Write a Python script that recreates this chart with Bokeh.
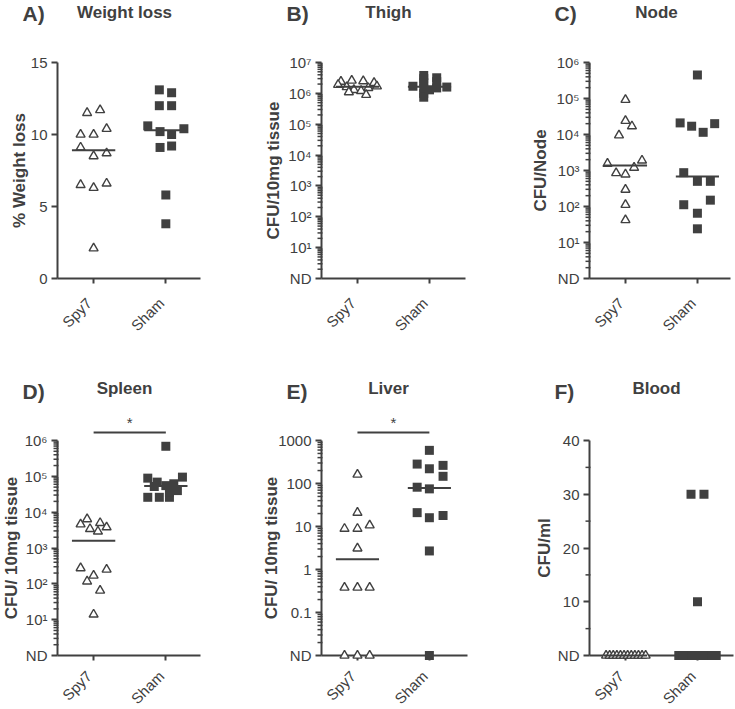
import math
import numpy as np
from bokeh.plotting import figure
from bokeh.models import Range1d, FixedTicker
from bokeh.core.properties import value
from bokeh.layouts import column, row
from bokeh.embed import file_html
from bokeh.resources import INLINE

groups = ["Spy7", "Sham"]

# ---------------- data ----------------
# A) Weight loss (%)
wl_spy7 = [11.5, 11.7, 10.4, 10.0, 10.0, 9.1, 8.5, 8.7, 6.5, 6.3, 6.6, 2.1]
wl_spy7_dx = [-0.09, 0.09, 0.18, -0.18, 0.0, -0.18, 0.0, 0.18, -0.18, 0.0, 0.18, 0.0]
wl_sham = [13.1, 12.9, 12.0, 12.0, 10.6, 10.2, 10.0, 10.4, 9.1, 9.2, 5.8, 3.8]
wl_sham_dx = [-0.09, 0.08, -0.09, 0.08, -0.25, -0.08, 0.08, 0.25, -0.08, 0.08, 0.0, 0.0]
wl_ticks = [0, 5, 10, 15]
wl_tick_labels = ["0", "5", "10", "15"]
wl_minor = []

# B) Thigh (CFU/10mg tissue), 0 = ND
thigh_spy7 = [2.4e6, 2.6e6, 2.5e6, 2.2e6, 1.9e6, 1.7e6, 1.6e6, 1.5e6, 1.3e6, 1.2e6, 1.1e6, 0.9e6]
thigh_spy7_dx = [-0.23, -0.08, 0.08, 0.23, -0.27, 0.27, -0.15, 0.15, -0.05, 0.05, -0.12, 0.12]
thigh_sham = [3.8e6, 3.0e6, 2.2e6, 1.5e6, 1.0e6, 0.75e6, 3.2e6, 2.4e6, 1.5e6, 1.7e6, 1.6e6, 1.3e6]
thigh_sham_dx = [-0.08, -0.08, -0.08, -0.08, -0.08, -0.08, 0.1, 0.1, 0.1, -0.23, 0.24, 0.0]
thigh_ticks = [1, 10, 100, 1000, 10000, 100000, 1000000, 10000000]
thigh_tick_labels = ["ND", "10¹", "10²", "10³", "10⁴", "10⁵", "10⁶", "10⁷"]

# C) Node (CFU/Node)
node_spy7 = [9.2e4, 2.4e4, 1.7e4, 9.5e3, 1.55e3, 1.9e3, 1.2e3, 850, 780, 295, 112, 42]
node_spy7_dx = [0.0, 0.0, 0.09, -0.09, -0.25, 0.23, 0.12, -0.13, 0.0, 0.0, 0.0, 0.0]
node_sham = [4.5e5, 2.1e4, 1.7e4, 1.15e4, 2.0e4, 870, 500, 500, 112, 150, 65, 24]
node_sham_dx = [0.0, -0.24, -0.08, 0.08, 0.24, -0.19, 0.0, 0.18, -0.19, 0.18, 0.0, 0.0]
node_ticks = [1, 10, 100, 1000, 10000, 100000, 1000000]
node_tick_labels = ["ND", "10¹", "10²", "10³", "10⁴", "10⁵", "10⁶"]

# D) Spleen (CFU/ 10mg tissue)
spleen_spy7 = [6.4e3, 4.6e3, 5.0e3, 3.8e3, 3.4e3, 2.9e3, 275, 250, 170, 117, 65, 14]
spleen_spy7_dx = [-0.09, -0.18, 0.09, 0.18, -0.05, 0.06, -0.18, 0.18, 0.0, -0.09, 0.09, 0.0]
spleen_sham = [6.9e5, 8.9e4, 9.5e4, 6.9e4, 6.2e4, 5.5e4, 4.0e4, 2.6e4, 2.6e4, 2.6e4, 5.2e4, 3.6e4]
spleen_sham_dx = [0.0, -0.25, 0.23, -0.12, 0.11, 0.0, 0.16, -0.25, -0.09, 0.05, -0.16, 0.05]
spleen_ticks = [1, 10, 100, 1000, 10000, 100000, 1000000]
spleen_tick_labels = ["ND", "10¹", "10²", "10³", "10⁴", "10⁵", "10⁶"]

# E) Liver (CFU/ 10mg tissue), 0 = ND
liver_spy7 = [162, 21, 8.9, 8.9, 10.7, 3.1, 0.38, 0.38, 0.38, 0, 0, 0]
liver_spy7_dx = [0.0, 0.0, -0.18, 0.0, 0.17, 0.0, -0.18, 0.0, 0.17, -0.18, 0.0, 0.17]
liver_sham = [590, 283, 220, 264, 147, 82, 75, 21, 16, 18, 2.7, 0]
liver_sham_dx = [0.0, -0.17, 0.0, 0.19, 0.19, -0.17, 0.0, -0.17, 0.0, 0.19, 0.0, 0.0]
liver_ticks = [0.01, 0.1, 1, 10, 100, 1000]
liver_tick_labels = ["ND", "0.1", "1", "10", "100", "1000"]

# F) Blood (CFU/ml), 0 = ND
blood_spy7 = [0, 0, 0, 0, 0, 0, 0, 0, 0, 0, 0, 0]
blood_spy7_dx = [-0.27, -0.22, -0.17, -0.12, -0.07, -0.02, 0.03, 0.08, 0.13, 0.18, 0.23, 0.28]
blood_sham = [30, 30, 10, 0, 0, 0, 0, 0, 0, 0, 0, 0]
blood_sham_dx = [-0.09, 0.09, 0.0, -0.26, -0.2, -0.13, -0.07, 0.0, 0.07, 0.13, 0.2, 0.26]
blood_ticks = [0, 10, 20, 30, 40]
blood_tick_labels = ["ND", "10", "20", "30", "40"]
blood_minor = [5, 15, 25, 35]


def log_minor(k0, k1):
    return [m * 10.0 ** k for k in range(k0, k1) for m in range(2, 10)]


# ---------------- style ----------------
INK = "#404040"
FONT = "Liberation Sans"


def panel(letter, title, ylabel, W, H, L, T, FW, FH, x_end,
          y_start, y_end, log, ticks, tick_labels, minor,
          spy, spy_dx, sham, sham_dx, ylab_x, title_dy, letter_dy, xlab_dy, sig=False):
    x_start = 0.5
    p = figure(width=W, height=H, x_range=Range1d(x_start, x_end),
               y_range=Range1d(y_start, y_end),
               y_axis_type="log" if log else "linear",
               output_backend="svg", toolbar_location=None,
               min_border_left=L, min_border_top=T,
               min_border_right=W - L - FW, min_border_bottom=H - T - FH)
    p.outline_line_color = None
    p.xgrid.visible = False
    p.ygrid.visible = False
    p.background_fill_color = "white"
    p.border_fill_color = "white"

    def sx(px):  # screen offset from frame left -> data x
        return x_start + px / FW * (x_end - x_start)

    def dxp(px):  # pixel distance -> data x distance
        return px / FW * (x_end - x_start)

    def sy(px):  # screen offset up from frame bottom -> data y
        if log:
            a, b = math.log10(y_start), math.log10(y_end)
            return 10 ** (a + px / FH * (b - a))
        return y_start + px / FH * (y_end - y_start)

    # x axis (category labels drawn as rotated text below)
    xa = p.xaxis[0]
    xa.ticker = FixedTicker(ticks=[1, 2])
    xa.major_label_overrides = {1: "", 2: ""}
    xa.major_label_text_font_size = "1px"
    xa.major_label_standoff = 0
    xa.axis_line_color = INK
    xa.axis_line_width = 2
    xa.major_tick_line_color = INK
    xa.major_tick_line_width = 2
    xa.major_tick_in = 0
    xa.major_tick_out = 5
    xa.minor_tick_line_color = None

    # y axis
    ya = p.yaxis[0]
    ya.ticker = FixedTicker(ticks=ticks)
    ya.major_label_overrides = {t: s for t, s in zip(ticks, tick_labels)}
    ya.major_label_standoff = 4
    ya.major_label_text_font = FONT
    ya.major_label_text_font_size = "15px"
    ya.major_label_text_color = INK
    ya.axis_line_color = INK
    ya.axis_line_width = 2
    ya.major_tick_line_color = INK
    ya.major_tick_line_width = 2
    ya.major_tick_in = 0
    ya.major_tick_out = 6
    ya.minor_tick_line_color = None

    # minor ticks of the y axis (reach 1px into the frame, under the axis line)
    if minor:
        n = len(minor)
        p.segment(x0=[sx(-4)] * n, x1=[sx(1)] * n, y0=minor, y1=minor,
                  line_color=INK, line_width=1.5, level="overlay")

    spy = np.array(spy, dtype=float)
    sham = np.array(sham, dtype=float)
    nd = y_start
    spy_y = np.where(spy > 0, spy, nd) if log else spy
    sham_y = np.where(sham > 0, sham, nd) if log else sham

    p.scatter(1 + np.array(spy_dx), spy_y, marker="triangle", size=9,
              fill_color="white", line_color=INK, line_width=1.4, level="overlay")
    p.scatter(2 + np.array(sham_dx), sham_y, marker="square", size=9,
              fill_color=INK, line_color=None, level="overlay")

    for xc, vals in ((1, spy), (2, sham)):
        m = float(np.median(vals))
        if log and m <= 0:
            m = nd
        p.segment(x0=[xc - 0.3], x1=[xc + 0.3], y0=[m], y1=[m],
                  line_color=INK, line_width=2, level="overlay")

    txt = dict(text_font=value(FONT), text_color=INK, level="overlay")
    if sig:
        yb = sy(FH + 8)
        p.segment(x0=[1], x1=[2], y0=[yb], y1=[yb], line_color=INK,
                  line_width=2, level="overlay")
        p.text(x=[1.5], y=[sy(FH + 18)], text=["*"], text_align="center",
               text_baseline="alphabetic", text_font_size=value("15px"), **txt)

    # rotated category labels
    p.text(x=[1 + dxp(-4.5), 2 + dxp(-4.5)], y=[sy(-xlab_dy)] * 2, text=groups,
           angle=math.pi / 4, text_align="right", text_baseline="middle",
           text_font_size=value("15px"), **txt)

    p.text(x=[sx(-35)], y=[sy(FH + letter_dy)], text=[letter], text_align="left",
           text_baseline="alphabetic", text_font_size=value("21px"),
           text_font_style="bold", **txt)
    p.text(x=[sx(67)], y=[sy(FH + title_dy)], text=[title], text_align="center",
           text_baseline="alphabetic", text_font_size=value("17px"),
           text_font_style="bold", **txt)
    p.text(x=[sx(ylab_x)], y=[sy(FH / 2)], text=[ylabel], angle=math.pi / 2,
           text_align="center", text_baseline="middle",
           text_font_size=value("17px"), text_font_style="bold", **txt)
    return p


pA = panel("A)", "Weight loss", "% Weight loss", 245, 350, 57, 62, 143, 216, 2.48,
           0, 15, False, wl_ticks, wl_tick_labels, wl_minor,
           wl_spy7, wl_spy7_dx, wl_sham, wl_sham_dx, -38, 50, 49, 22)
pB = panel("B)", "Thigh", "CFU/10mg tissue", 245, 350, 76, 62, 144, 216, 2.5,
           1, 1e7, True, thigh_ticks, thigh_tick_labels, log_minor(0, 7),
           thigh_spy7, thigh_spy7_dx, thigh_sham, thigh_sham_dx, -48.5, 50, 49, 22)
pC = panel("C)", "Node", "CFU/Node", 244, 350, 99, 62, 141, 216, 2.46,
           1, 1e6, True, node_ticks, node_tick_labels, log_minor(0, 6),
           node_spy7, node_spy7_dx, node_sham, node_sham_dx, -49, 50, 49, 22)
pD = panel("D)", "Spleen", "CFU/ 10mg tissue", 245, 359, 57, 90, 143, 215, 2.48,
           1, 1e6, True, spleen_ticks, spleen_tick_labels, log_minor(0, 6),
           spleen_spy7, spleen_spy7_dx, spleen_sham, spleen_sham_dx, -46.5, 52.5, 49,
           18, sig=True)
pE = panel("E)", "Liver", "CFU/ 10mg tissue", 245, 359, 76, 90, 146, 215, 2.53,
           0.01, 1000, True, liver_ticks, liver_tick_labels, log_minor(-2, 3),
           liver_spy7, liver_spy7_dx, liver_sham, liver_sham_dx, -50.5, 52.5, 49,
           18, sig=True)
pF = panel("F)", "Blood", "CFU/ml", 244, 359, 99, 90, 144, 215, 2.5,
           0, 40, False, blood_ticks, blood_tick_labels, blood_minor,
           blood_spy7, blood_spy7_dx, blood_sham, blood_sham_dx, -45.5, 52.5, 49, 18)

layout = column(row(pA, pB, pC), row(pD, pE, pF))
open("out.html", "w").write(file_html(layout, INLINE))
